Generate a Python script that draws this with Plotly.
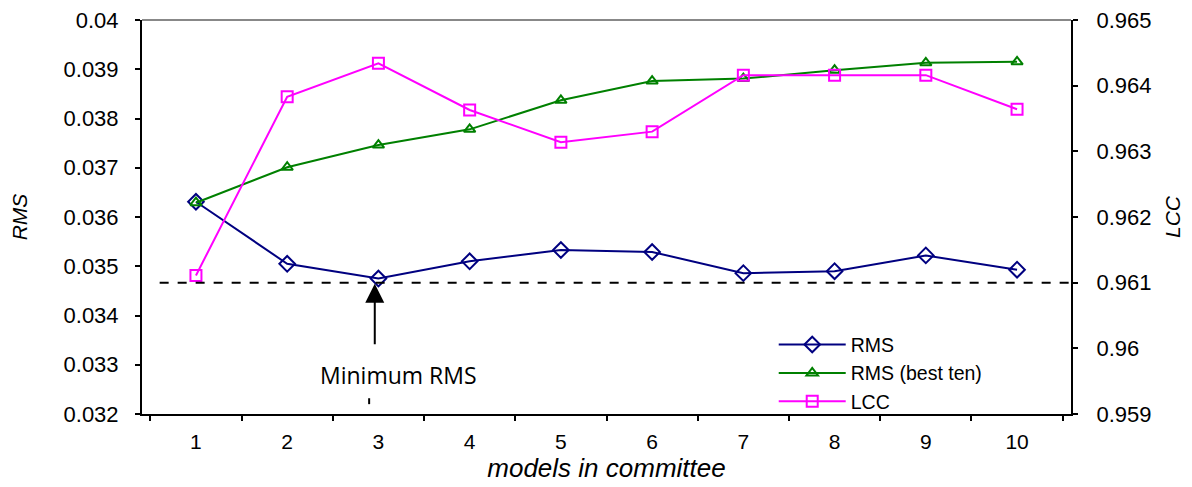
import plotly.graph_objects as go

models = ["1", "2", "3", "4", "5", "6", "7", "8", "9", "10"]
rms = [0.03631, 0.03505, 0.03475, 0.03510, 0.03533, 0.03529, 0.03486, 0.03490, 0.03522, 0.03493]
rms_best_ten = [0.03629, 0.03701, 0.03746, 0.03778, 0.03837, 0.03876, 0.03881, 0.03898, 0.03913, 0.03915]
lcc = [0.96111, 0.96383, 0.96434, 0.96363, 0.96314, 0.96330, 0.96416, 0.96416, 0.96416, 0.96364]
rms_ticks = [0.032, 0.033, 0.034, 0.035, 0.036, 0.037, 0.038, 0.039, 0.04]
rms_tick_labels = ["0.032", "0.033", "0.034", "0.035", "0.036", "0.037", "0.038", "0.039", "0.04"]
lcc_ticks = [0.959, 0.96, 0.961, 0.962, 0.963, 0.964, 0.965]
lcc_tick_labels = ["0.959", "0.96", "0.961", "0.962", "0.963", "0.964", "0.965"]
min_line_lcc = 0.961

FONT = "Liberation Sans, Arial, sans-serif"

fig = go.Figure()
fig.add_trace(go.Scatter(
    x=models, y=rms, name="RMS", mode="lines+markers",
    line=dict(color="#000080", width=2),
    marker=dict(symbol="diamond-open", size=12, color="#000080", line=dict(width=2)),
))
fig.add_trace(go.Scatter(
    x=models, y=rms_best_ten, name="RMS (best ten)", mode="lines+markers",
    line=dict(color="#008000", width=2),
    marker=dict(symbol="triangle-up-open", size=10, color="#008000", line=dict(width=2)),
))
fig.add_trace(go.Scatter(
    x=models, y=lcc, name="LCC", mode="lines+markers", yaxis="y2",
    line=dict(color="#FF00FF", width=2),
    marker=dict(symbol="square-open", size=11, color="#FF00FF", line=dict(width=2)),
))

fig.update_layout(
    width=1192, height=487,
    margin=dict(l=134, r=129, t=12, b=81, autoexpand=False),
    paper_bgcolor="white", plot_bgcolor="white",
    font=dict(family=FONT, size=19, color="black"),
    showlegend=True,
    legend=dict(
        x=0.68, y=0.225, xanchor="left", yanchor="top",
        bgcolor="rgba(0,0,0,0)", font=dict(family=FONT, size=19.5),
        itemwidth=67, tracegroupgap=0,
    ),
    xaxis=dict(
        type="category", tickson="boundaries", ticks="outside", ticklen=5,
        tickwidth=1.5, tickcolor="black", automargin=False,
        showline=True, linecolor="black", linewidth=2, showgrid=False,
        zeroline=False, tickfont=dict(size=21), ticklabelstandoff=8,
        title=dict(text="<i>models in committee</i>", font=dict(size=26), standoff=4),
    ),
    yaxis=dict(
        range=[0.032, 0.04], tickmode="array", tickvals=rms_ticks, ticktext=rms_tick_labels,
        ticks="outside", ticklen=5, tickwidth=1.5, tickcolor="black",
        ticklabeloverflow="allow", automargin=False,
        showline=True, linecolor="black", linewidth=2, showgrid=False,
        zeroline=False, tickfont=dict(size=22), ticklabelstandoff=12,
        title=dict(text="<i>RMS</i>", font=dict(size=21), standoff=32),
    ),
    yaxis2=dict(
        range=[0.959, 0.965], tickmode="array", tickvals=lcc_ticks, ticktext=lcc_tick_labels,
        overlaying="y", side="right",
        ticks="outside", ticklen=5, tickwidth=1.5, tickcolor="black",
        ticklabeloverflow="allow", automargin=False,
        showline=True, linecolor="black", linewidth=2, showgrid=False,
        zeroline=False, tickfont=dict(size=22), ticklabelstandoff=14,
        title=dict(text="<i>LCC</i>", font=dict(size=21), standoff=15),
    ),
)

# top border (gray)
fig.add_shape(type="line", xref="paper", yref="paper", x0=0, x1=1, y0=1, y1=1,
              line=dict(color="#888888", width=2))
# dashed minimum line
fig.add_shape(type="line", xref="paper", yref="y2", x0=0.019, x1=1,
              y0=min_line_lcc, y1=min_line_lcc,
              line=dict(color="black", width=2, dash="dash"))
# small dash below text
fig.add_shape(type="line", xref="paper", yref="paper", x0=0.2445, x1=0.2445,
              y0=0.025, y1=0.04, line=dict(color="black", width=2))

# arrow
fig.add_annotation(x=1.96, y=min_line_lcc, xref="x", yref="y2", yshift=-1,
                   text="", showarrow=True, arrowhead=2, arrowsize=1.9,
                   arrowwidth=2, arrowcolor="black", ax=0, ay=62, standoff=0)
fig.add_annotation(x=2.22, y=0.0328, xref="x", yref="y", text="Minimum RMS",
                   showarrow=False, font=dict(family="Open Sans, sans-serif", size=23))

fig.write_html("out.html")
